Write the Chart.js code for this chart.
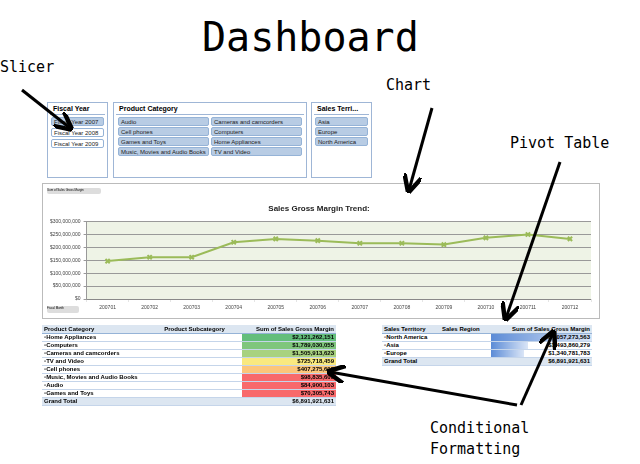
<!DOCTYPE html>
<html><head><meta charset="utf-8">
<script src="https://cdn.jsdelivr.net/npm/chart.js@4/dist/chart.umd.min.js"></script>
<style>
body{margin:0;width:640px;height:464px;background:#fff;position:relative;overflow:hidden;font-family:"Liberation Sans",Arial,sans-serif}
.a{position:absolute}
.mono{font-family:"DejaVu Sans Mono",monospace;color:#000}
.box{position:absolute;border:1px solid #9fb6d6;background:#fff}
.hd{font-size:7px;font-weight:bold;padding:2px 3px;border-bottom:1px solid #9fb6d6;margin:0 2px}
.it{position:absolute;font-size:6px;background:#b8cce4;border:1px solid #95b3d7;border-radius:2px;height:9px;line-height:8px;padding-left:2px;box-sizing:border-box;color:#222;white-space:nowrap;overflow:hidden}
.it.w{background:#fff}
table{border-collapse:collapse;font-size:6px;font-weight:bold;position:absolute}
td{padding:0 2px;height:7px;line-height:7px;border-bottom:1px solid #c5d5ea;white-space:nowrap}
th{background:#dce6f1;text-align:left;padding:0 2px;height:8px;line-height:8px;border-bottom:1px solid #95b3d7}
.r{text-align:right}
</style></head><body>
<div class="a mono" style="left:202px;top:14px;font-size:40px;">Dashboard</div>
<div class="a mono" style="left:0;top:58px;font-size:15px;">Slicer</div>
<div class="a mono" style="left:386px;top:76px;font-size:15px;">Chart</div>
<div class="a mono" style="left:510px;top:134px;font-size:15px;">Pivot Table</div>
<div class="a mono" style="left:430px;top:418px;font-size:15px;line-height:21px;">Conditional<br>Formatting</div>

<div class="box" style="left:47px;top:102px;width:59px;height:74px">
<div class="hd">Fiscal Year</div>
<div class="it" style="left:3px;top:14px;width:53px">Fiscal Year 2007</div>
<div class="it w" style="left:3px;top:25px;width:53px">Fiscal Year 2008</div>
<div class="it w" style="left:3px;top:36px;width:53px">Fiscal Year 2009</div>
</div>
<div class="box" style="left:113px;top:102px;width:192px;height:74px">
<div class="hd">Product Category</div>
<div class="it" style="left:4px;top:14px;width:91px">Audio</div>
<div class="it" style="left:97px;top:14px;width:91px">Cameras and camcorders</div>
<div class="it" style="left:4px;top:24px;width:91px">Cell phones</div>
<div class="it" style="left:97px;top:24px;width:91px">Computers</div>
<div class="it" style="left:4px;top:34px;width:91px">Games and Toys</div>
<div class="it" style="left:97px;top:34px;width:91px">Home Appliances</div>
<div class="it" style="left:4px;top:44px;width:91px">Music, Movies and Audio Books</div>
<div class="it" style="left:97px;top:44px;width:91px">TV and Video</div>
</div>
<div class="box" style="left:311px;top:102px;width:59px;height:74px">
<div class="hd">Sales Terri...</div>
<div class="it" style="left:3px;top:14px;width:53px">Asia</div>
<div class="it" style="left:3px;top:24px;width:53px">Europe</div>
<div class="it" style="left:3px;top:34px;width:53px">North America</div>
</div>

<div class="a" style="left:42px;top:183px;width:556px;height:134px;border:1px solid #bbb;background:#fff">
<canvas id="c" width="556" height="134" style="position:absolute;left:0;top:0"></canvas>
<div class="a" style="left:4px;top:4px;width:54px;height:6px;background:#ddd;border-radius:2px;font-size:3px">Sum of Sales Gross Margin</div>
<div class="a" style="left:4px;top:122px;width:32px;height:7px;background:#ddd;border-radius:2px;font-size:3px">Fiscal Month</div>
</div>

<table style="left:42px;top:325px;width:294px">
<thead><tr><th>Product Category</th><th>Product Subcategory</th><th class="r" style="width:90px">Sum of Sales Gross Margin</th></tr></thead>
<tbody id="t1"></tbody>
</table>
<table style="left:382px;top:325px;width:210px">
<thead><tr><th>Sales Territory</th><th>Sales Region</th><th class="r">Sum of Sales Gross Margin</th></tr></thead>
<tbody id="t2"></tbody>
</table>

<svg class="a" style="left:0;top:0" width="640" height="464">
<defs><marker id="m" markerWidth="6" markerHeight="6" refX="5" refY="3" orient="auto"><path d="M0,0 L6,3 L0,6" fill="none" stroke="#000" stroke-width="1.5"/></marker></defs>
<g stroke="#000" stroke-width="3" fill="none" marker-end="url(#m)">
<line x1="22" y1="90" x2="70" y2="128"/>
<line x1="432" y1="108" x2="409" y2="190"/>
<line x1="560" y1="162" x2="506" y2="318"/>
<line x1="517" y1="405" x2="330" y2="372"/>
<line x1="521" y1="405" x2="553" y2="333"/>
</g></svg>

<script>
var months=["200701","200702","200703","200704","200705","200706","200707","200708","200709","200710","200711","200712"];
var margin=[147e6,162e6,162e6,220e6,233e6,226e6,216e6,216e6,211e6,237e6,250e6,233e6];
var yTicks=[0,50e6,100e6,150e6,200e6,250e6,300e6];
var cats=["Home Appliances","Computers","Cameras and camcorders","TV and Video","Cell phones","Music, Movies and Audio Books","Audio","Games and Toys"];
var catVals=["$2,121,262,151","$1,789,030,055","$1,505,913,623","$725,718,459","$407,275,607","$98,835,609","$84,900,103","$70,305,743"];
var catColors=["#63be7b","#7fc67d","#a8d27f","#f9e97f","#fcc67a","#f8696b","#f8696b","#f8696b"];
var regions=["North America","Asia","Europe"];
var regVals=["$4,057,273,563","$1,493,860,279","$1,340,781,783"];
var regFrac=[100,37,33];
var total="$6,891,921,631";

function addRow(tb,a,c,bg,bold){
  var tr=document.createElement("tr");
  var td1=document.createElement("td");td1.textContent=a;
  var td2=document.createElement("td");
  var td3=document.createElement("td");td3.textContent=c;td3.className="r";td3.style.background=bg;
  if(bold){td1.style.background="#dce6f1";td2.style.background="#dce6f1";}
  tr.appendChild(td1);tr.appendChild(td2);tr.appendChild(td3);tb.appendChild(tr);
}
var t1=document.getElementById("t1");
for(var i=0;i<cats.length;i++){addRow(t1,"\u25ab"+cats[i],catVals[i],catColors[i],false);}
addRow(t1,"Grand Total",total,"#dce6f1",true);
var t2=document.getElementById("t2");
for(var j=0;j<regions.length;j++){addRow(t2,"\u25ab"+regions[j],regVals[j],"linear-gradient(90deg,#5b8bd6 0%,#dbe6f7 "+regFrac[j]+"%,#ffffff "+regFrac[j]+"%)",false);}
addRow(t2,"Grand Total",total,"#dce6f1",true);

var bgPlugin={id:"bg",beforeDraw:function(ch){var a=ch.chartArea,x=ch.ctx;x.save();x.fillStyle="#eef3e6";x.fillRect(a.left,a.top,a.right-a.left,a.bottom-a.top);x.restore();}};
new Chart(document.getElementById("c"),{type:"line",
data:{labels:months,datasets:[{data:margin,borderColor:"#9bbb59",backgroundColor:"#9bbb59",borderWidth:2,pointStyle:"crossRot",pointRadius:3,pointBorderWidth:2,tension:0}]},
options:{responsive:false,animation:false,devicePixelRatio:1,
layout:{padding:{left:4,right:8,top:2,bottom:4}},
plugins:{legend:{display:false},tooltip:{enabled:false},
title:{display:true,text:"Sales Gross Margin Trend:",font:{size:8,weight:"bold",family:"Liberation Sans"},color:"#222",padding:{top:18,bottom:8}}},
scales:{x:{offset:true,grid:{offset:true,drawOnChartArea:false,tickLength:3},ticks:{font:{size:5},color:"#444",maxRotation:0}},
y:{min:0,max:300e6,afterBuildTicks:function(s){s.ticks=yTicks.map(function(v){return {value:v};});},grid:{color:"#999",tickLength:3},border:{color:"#999"},
ticks:{font:{size:5},color:"#444",callback:function(v){return "$"+v.toLocaleString("en-US");}}}}},
plugins:[bgPlugin]});
</script>
</body></html>
